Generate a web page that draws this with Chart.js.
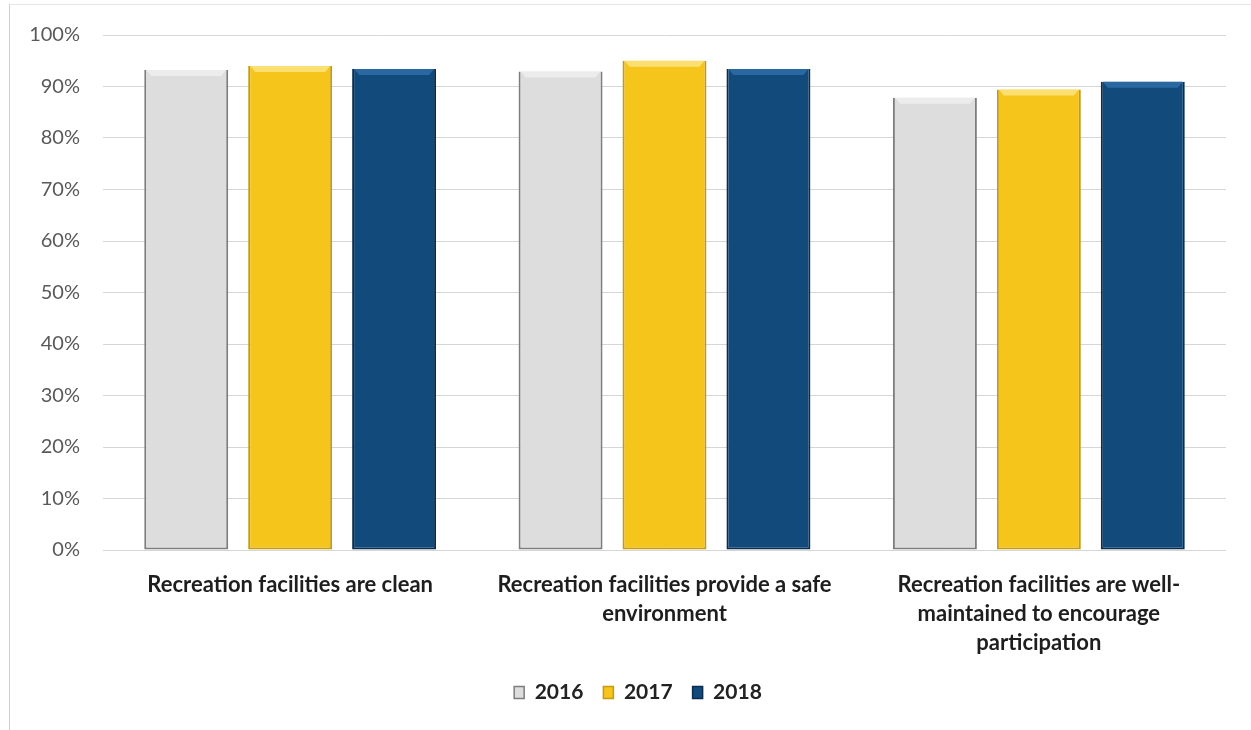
<!DOCTYPE html>
<html>
<head>
<meta charset="utf-8">
<title>Recreation facilities</title>
<script src="https://cdn.jsdelivr.net/npm/chart.js@4.4.1/dist/chart.umd.min.js"></script>
<style>
  html, body { margin: 0; background: #fff; }
  #wrap { position: relative; width: 1251px; height: 730px; }
  #frame { position: absolute; left: 9px; top: 4px; right: 0; bottom: 0;
           border-left: 1px solid #cfcfcf; border-top: 1px solid #e6e6e6; }
  canvas { position: absolute; left: 0; top: 0; }
</style>
</head>
<body>
<div id="wrap"><div id="frame"></div><canvas id="chart" width="1251" height="730"></canvas></div>
<script>
const categories = [
  ["Recreation facilities are clean"],
  ["Recreation facilities provide a safe", "environment"],
  ["Recreation facilities are well-", "maintained to encourage", "participation"]
];
const years = ["2016", "2017", "2018"];
const values2016 = [93.2, 92.9, 87.8];
const values2017 = [94.0, 95.0, 89.4];
const values2018 = [93.4, 93.4, 90.9];
const yTickStep = 10;

// fill, edge, top highlight for each year
const fills = ["#dedddd", "#f6c51b", "#124a7c"];
const edges = ["#7d7d7d", "#c49a12", "#0a2c4d"];
const shines = ["#ececec", "#fbe071", "#2a68a2"];

const font = "Lato, 'Open Sans', sans-serif";

// lighter bevel along the top of every bar
const bevel = {
  id: "bevel",
  afterDatasetsDraw(chart) {
    const ctx = chart.ctx;
    chart.data.datasets.forEach((ds, i) => {
      chart.getDatasetMeta(i).data.forEach(bar => {
        const p = bar.getProps(["x", "y", "width"], true);
        const l = p.x - p.width / 2 + 2, r = p.x + p.width / 2 - 2;
        ctx.save();
        ctx.fillStyle = shines[i];
        ctx.beginPath();
        ctx.moveTo(l, p.y);
        ctx.lineTo(r, p.y);
        ctx.lineTo(r - 5, p.y + 6);
        ctx.lineTo(l + 5, p.y + 6);
        ctx.closePath();
        ctx.fill();
        ctx.restore();
      });
    });
  }
};

// nudge the legend row to the right
const legendShift = {
  id: "legendShift",
  afterLayout(chart) {
    if (chart.legend) {
      chart.legend.left += 21;
      chart.legend.right += 21;
    }
  }
};

const seriesValues = [values2016, values2017, values2018];

new Chart(document.getElementById("chart"), {
  type: "bar",
  data: {
    labels: categories,
    datasets: years.map((y, i) => ({
      label: y,
      data: seriesValues[i],
      backgroundColor: fills[i],
      borderColor: edges[i],
      borderWidth: { top: 0, left: 2, right: 2, bottom: 2 },
      borderSkipped: false,
      categoryPercentage: 0.833,
      barPercentage: 0.808
    }))
  },
  options: {
    responsive: false,
    animation: false,
    layout: { padding: { left: 8, right: 25, top: 33, bottom: 17 } },
    plugins: {
      tooltip: { enabled: false },
      legend: {
        position: "bottom",
        labels: {
          boxWidth: 10,
          boxHeight: 12,
          padding: 20,
          color: "#222",
          font: { family: font, size: 21, weight: "bold" }
        }
      }
    },
    scales: {
      x: {
        grid: { display: false },
        border: { display: false },
        ticks: {
          color: "#1e1e1e",
          padding: 13,
          maxRotation: 0,
          autoSkip: false,
          font: { family: font, size: 22, weight: "bold", lineHeight: 1.3 }
        },
        afterFit(scale) { scale.height = 112; }
      },
      y: {
        min: 0,
        max: 100,
        border: { display: false },
        grid: { color: "#d6d6d6", lineWidth: 1, drawTicks: false },
        ticks: {
          stepSize: yTickStep,
          padding: 23,
          color: "#595959",
          font: { family: font, size: 20 },
          callback: v => v + "%"
        },
        afterFit(scale) { scale.width = 95; }
      }
    }
  },
  plugins: [bevel, legendShift]
});
</script>
</body>
</html>
